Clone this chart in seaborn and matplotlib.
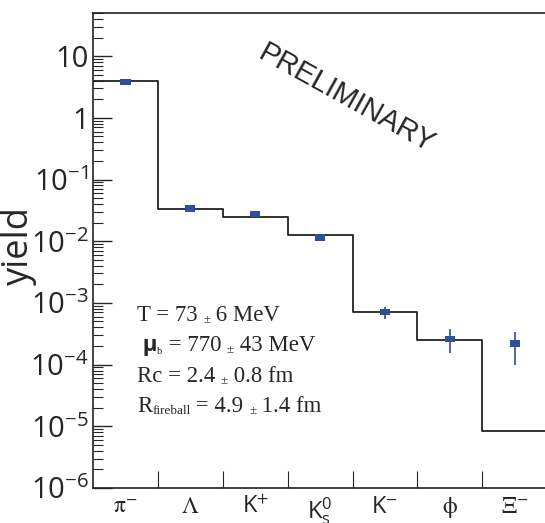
import numpy as np
import pandas as pd
import matplotlib
matplotlib.use("Agg")
import matplotlib.pyplot as plt
import seaborn as sns

species = [r"$\mathrm{\pi}^{-}$", r"$\Lambda$", r"$\mathregular{K}^{+}$", r"$\mathregular{K^{0}_{s}}$",
           r"$\mathregular{K}^{-}$", r"$\mathrm{\phi}$", r"$\Xi^{-}$"]
yield_data = [3.85, 0.034, 0.028, 0.0115, 7.2e-4, 2.6e-4, 2.2e-4]
yield_lo = [3.5, 0.031, 0.026, 0.0108, 5.5e-4, 1.55e-4, 1.0e-4]
yield_hi = [4.2, 0.037, 0.030, 0.0122, 8.6e-4, 3.8e-4, 3.4e-4]
# statistical model fit values (histogram)
yield_model = [3.9, 0.033, 0.025, 0.0128, 7.0e-4, 2.5e-4, 8.3e-6]

ytick_vals = [1e-6, 1e-5, 1e-4, 1e-3, 1e-2, 1e-1, 1, 10]
ytick_labels = [r"$\mathregular{10^{-6}}$", r"$\mathregular{10^{-5}}$", r"$\mathregular{10^{-4}}$",
                r"$\mathregular{10^{-3}}$", r"$\mathregular{10^{-2}}$", r"$\mathregular{10^{-1}}$",
                "1", "10"]

# fit parameters, each line as (text, size, bold) pieces
fit_lines = [
    [("T = 73 ", 16.4, False), ("\u00b1", 9.5, False), (" 6 MeV", 16.4, False)],
    [(" \u03bc", 16, True), ("b", 7.5, False), (" = 770 ", 16.4, False), ("\u00b1", 9.5, False), (" 43 MeV", 16.4, False)],
    [("Rc = 2.4 ", 16.4, False), ("\u00b1", 9.5, False), (" 0.8 fm", 16.4, False)],
    [("R", 16.4, False), ("fireball", 9.5, False), (" = 4.9 ", 16.4, False), ("\u00b1", 9.5, False), (" 1.4 fm", 16.4, False)],
]


def chain_text(ax, x, y, pieces):
    prev = None
    for s, size, bold in pieces:
        fam = ["Open Sans", "DejaVu Sans"] if bold else ["Liberation Serif", "DejaVu Serif"]
        weight = "bold" if bold else "normal"
        if prev is None:
            prev = ax.text(x, y, s, transform=ax.transAxes, fontsize=size, family=fam,
                           fontweight=weight, ha="left", va="bottom")
        else:
            prev = ax.annotate(s, xy=(1, 0), xycoords=prev, fontsize=size, family=fam,
                               fontweight=weight, ha="left", va="bottom")


sns.set_style("ticks")
plt.rcParams["font.family"] = ["Open Sans", "DejaVu Sans"]
plt.rcParams["mathtext.fontset"] = "stix"

centers = np.arange(len(species)) + 0.5
df = pd.DataFrame({"x": centers, "y": yield_data})
edges = np.arange(len(species) + 1)
model_df = pd.DataFrame({"x": edges, "y": yield_model + [yield_model[-1]]})

fig = plt.figure(figsize=(5.45, 5.23), dpi=100)
ax = fig.add_axes([93 / 545, 35 / 523, 1 - 93 / 545, 475 / 523])

blue = "#2f4e9e"

sns.lineplot(data=model_df, x="x", y="y", ax=ax, color="#222222", lw=1.3,
             drawstyle="steps-post")

yerr = [np.array(yield_data) - np.array(yield_lo), np.array(yield_hi) - np.array(yield_data)]
ax.errorbar(centers, yield_data, yerr=yerr, fmt="none", ecolor=blue, elinewidth=1.2)

rect = [(-1, -0.6), (1, -0.6), (1, 0.6), (-1, 0.6), (-1, -0.6)]
sns.scatterplot(data=df, x="x", y="y", ax=ax, marker=rect, s=55, color=blue,
                edgecolor="none", zorder=5)

ax.set_yscale("log")
ax.set_ylim(1e-6, 50)
ax.set_xlim(0, 6.965)

ax.set_yticks(ytick_vals)
ax.set_yticklabels(ytick_labels, fontsize=21)
ax.yaxis.set_minor_locator(matplotlib.ticker.LogLocator(base=10, subs=np.arange(2, 10)))
ax.yaxis.set_minor_formatter(matplotlib.ticker.NullFormatter())
ax.tick_params(axis="y", which="major", direction="in", length=14, width=1.0, pad=3)
ax.tick_params(axis="y", which="minor", direction="in", length=7, width=0.8)

ax.set_xticks(edges[1:-1])
ax.set_xticklabels([])
ax.set_xticks(centers, minor=True)
ax.set_xticklabels(species, minor=True, fontsize=17)
ax.tick_params(axis="x", which="major", direction="in", length=12, width=0.8)
ax.tick_params(axis="x", which="minor", length=0, pad=5)

ax.set_xlabel("")
ax.set_ylabel("yield", fontsize=26)
ax.yaxis.set_label_coords(-0.125, 0.51)

for side in ["left", "bottom", "top"]:
    ax.spines[side].set_visible(True)
    ax.spines[side].set_linewidth(1.2)
    ax.spines[side].set_color("#222222")
ax.spines["right"].set_visible(False)

ax.text(0.56, 0.82, "PRELIMINARY", transform=ax.transAxes, rotation=-29,
        fontsize=21, family="Liberation Sans", ha="center", va="center")

for i, pieces in enumerate(fit_lines):
    chain_text(ax, 0.097, 0.342 - i * 0.0642, pieces)

fig.savefig("out.png", dpi=100)
